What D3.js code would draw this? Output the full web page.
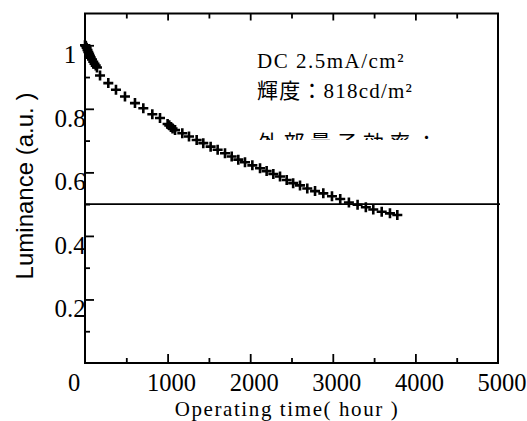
<!DOCTYPE html>
<html>
<head>
<meta charset="utf-8">
<script src="https://cdn.jsdelivr.net/npm/d3@7"></script>
<style>
  html, body { margin: 0; padding: 0; background: #fff; }
  svg { display: block; }
</style>
</head>
<body>
<svg id="chart" width="527" height="421"></svg>
<script>
// ---- data ----
const hours = [0, 10, 20, 30, 40, 50, 60, 70, 85, 100, 115, 130, 145,
  182, 282, 375, 484, 605, 706, 815, 908,
  1000, 1020, 1040, 1060, 1090, 1178, 1259, 1352, 1432, 1521, 1606, 1695, 1776, 1856, 1937,
  2026, 2119, 2199, 2280, 2361, 2442, 2520, 2603, 2691, 2785, 2885, 2990,
  3090, 3195, 3300, 3400, 3490, 3592, 3692, 3781];
const luminance = [1.0, 0.998, 0.992, 0.985, 0.979, 0.973, 0.967, 0.961, 0.955, 0.948, 0.942, 0.936, 0.93,
  0.905, 0.881, 0.860, 0.839, 0.818, 0.802, 0.783, 0.771,
  0.752, 0.748, 0.743, 0.738, 0.733, 0.723, 0.713, 0.702, 0.692, 0.681, 0.671, 0.660, 0.650, 0.640, 0.632,
  0.622, 0.613, 0.604, 0.595, 0.587, 0.576, 0.566, 0.559, 0.549, 0.541, 0.534, 0.525,
  0.516, 0.505, 0.498, 0.490, 0.483, 0.476, 0.471, 0.466];
const referenceLevel = 0.5;
const xMajorTicks = [0, 1000, 2000, 3000, 4000, 5000];
const xMinorTicks = [500, 1500, 2500, 3500, 4500];
const xTickLabels = ["0", "1000", "2000", "3000", "4000", "5000"];
const yMajorTicks = [0.2, 0.4, 0.6, 0.8, 1.0];
const yMinorTicks = [0.1, 0.3, 0.5, 0.7, 0.9];
const yTickLabels = ["0.2", "0.4", "0.6", "0.8", "1"];
const xTitle = "Operating time( hour )";
const yTitle = "Luminance (a.u. )";
const noteLines = ["DC 2.5mA/cm²", "輝度：818cd/m²", "外部量子効率："];

// ---- layout ----
const svg = d3.select("#chart");
const pLeft = 85, pRight = 498, pTop = 13.5, pBottom = 363;
const x = d3.scaleLinear().domain([0, 5000]).range([pLeft, pRight]);
const y = d3.scaleLinear().domain([0, 1.1]).range([pBottom, pTop]);

const serif = "'Liberation Serif', 'Times New Roman', serif";
const cjk = "'Liberation Serif', 'Noto Sans CJK JP', serif";

// ticks via d3 axes (inward)
function styleAxis(g) {
  g.select(".domain").remove();
  g.selectAll("text").remove();
  g.selectAll("line").attr("stroke", "#000").attr("stroke-width", 1.8);
}
svg.append("g").attr("transform", `translate(0,${pBottom})`)
  .call(d3.axisBottom(x).tickValues(xMajorTicks.slice(1, -1)).tickSize(-9)).call(styleAxis);
svg.append("g").attr("transform", `translate(0,${pBottom})`)
  .call(d3.axisBottom(x).tickValues(xMinorTicks).tickSize(-5)).call(styleAxis);
svg.append("g").attr("transform", `translate(0,${pTop})`)
  .call(d3.axisTop(x).tickValues(xMajorTicks.slice(1, -1)).tickSize(-7)).call(styleAxis);
svg.append("g").attr("transform", `translate(0,${pTop})`)
  .call(d3.axisTop(x).tickValues(xMinorTicks).tickSize(-5)).call(styleAxis);
svg.append("g").attr("transform", `translate(${pLeft},0)`)
  .call(d3.axisLeft(y).tickValues(yMajorTicks).tickSize(-9)).call(styleAxis);
svg.append("g").attr("transform", `translate(${pLeft},0)`)
  .call(d3.axisLeft(y).tickValues(yMinorTicks).tickSize(-5)).call(styleAxis);

// frame
svg.append("rect").attr("x", pLeft).attr("y", pTop)
  .attr("width", pRight - pLeft).attr("height", pBottom - pTop)
  .attr("fill", "none").attr("stroke", "#000").attr("stroke-width", 2);

// reference line at 0.5
svg.append("line")
  .attr("x1", x(0)).attr("x2", x(5000) + 2)
  .attr("y1", y(referenceLevel)).attr("y2", y(referenceLevel))
  .attr("stroke", "#000").attr("stroke-width", 1.6);

// tick labels
svg.append("g").selectAll("text").data(xMajorTicks).join("text")
  .attr("x", (d) => x(d) + (d === 0 ? -11 : 4))
  .attr("y", 390.5)
  .attr("text-anchor", "middle")
  .attr("font-family", serif).attr("font-size", 24.5)
  .text((d, i) => xTickLabels[i]);
svg.append("g").selectAll("text").data(yMajorTicks).join("text")
  .attr("x", 70)
  .attr("y", (d) => y(d) + 18)
  .attr("text-anchor", "middle")
  .attr("font-family", serif).attr("font-size", 25)
  .text((d, i) => yTickLabels[i]);

// axis titles
svg.append("text")
  .attr("x", 287).attr("y", 416)
  .attr("text-anchor", "middle")
  .attr("font-family", serif).attr("font-size", 21)
  .attr("letter-spacing", 1.6)
  .text(xTitle);
svg.append("text")
  .attr("transform", "translate(33,186) rotate(-90)")
  .attr("text-anchor", "middle")
  .attr("font-family", "'Liberation Sans', Arial, sans-serif").attr("font-size", 24)
  .text(yTitle);

// data markers (+)
const pts = hours.map((h, i) => [x(h), y(luminance[i])]);
svg.append("g").selectAll("path").data(pts).join("path")
  .attr("d", (p) => `M${p[0] - 5},${p[1]}H${p[0] + 5}M${p[0]},${p[1] - 5}V${p[1] + 5}`)
  .attr("stroke", "#000").attr("stroke-width", 2.6).attr("fill", "none");

// annotation
svg.append("clipPath").attr("id", "noteclip")
  .append("rect").attr("x", 240).attr("y", 0).attr("width", 250).attr("height", 140);
const note = svg.append("g").attr("clip-path", "url(#noteclip)")
  .attr("font-family", cjk).attr("font-size", 21);
note.append("text").attr("x", 257).attr("y", 68).attr("letter-spacing", 1.5).text(noteLines[0]);
note.append("text").attr("x", 257).attr("y", 98).attr("letter-spacing", 1.2).text(noteLines[1]);
note.append("text").attr("x", 257).attr("y", 150).attr("letter-spacing", 5.5).text(noteLines[2]);
</script>
</body>
</html>
